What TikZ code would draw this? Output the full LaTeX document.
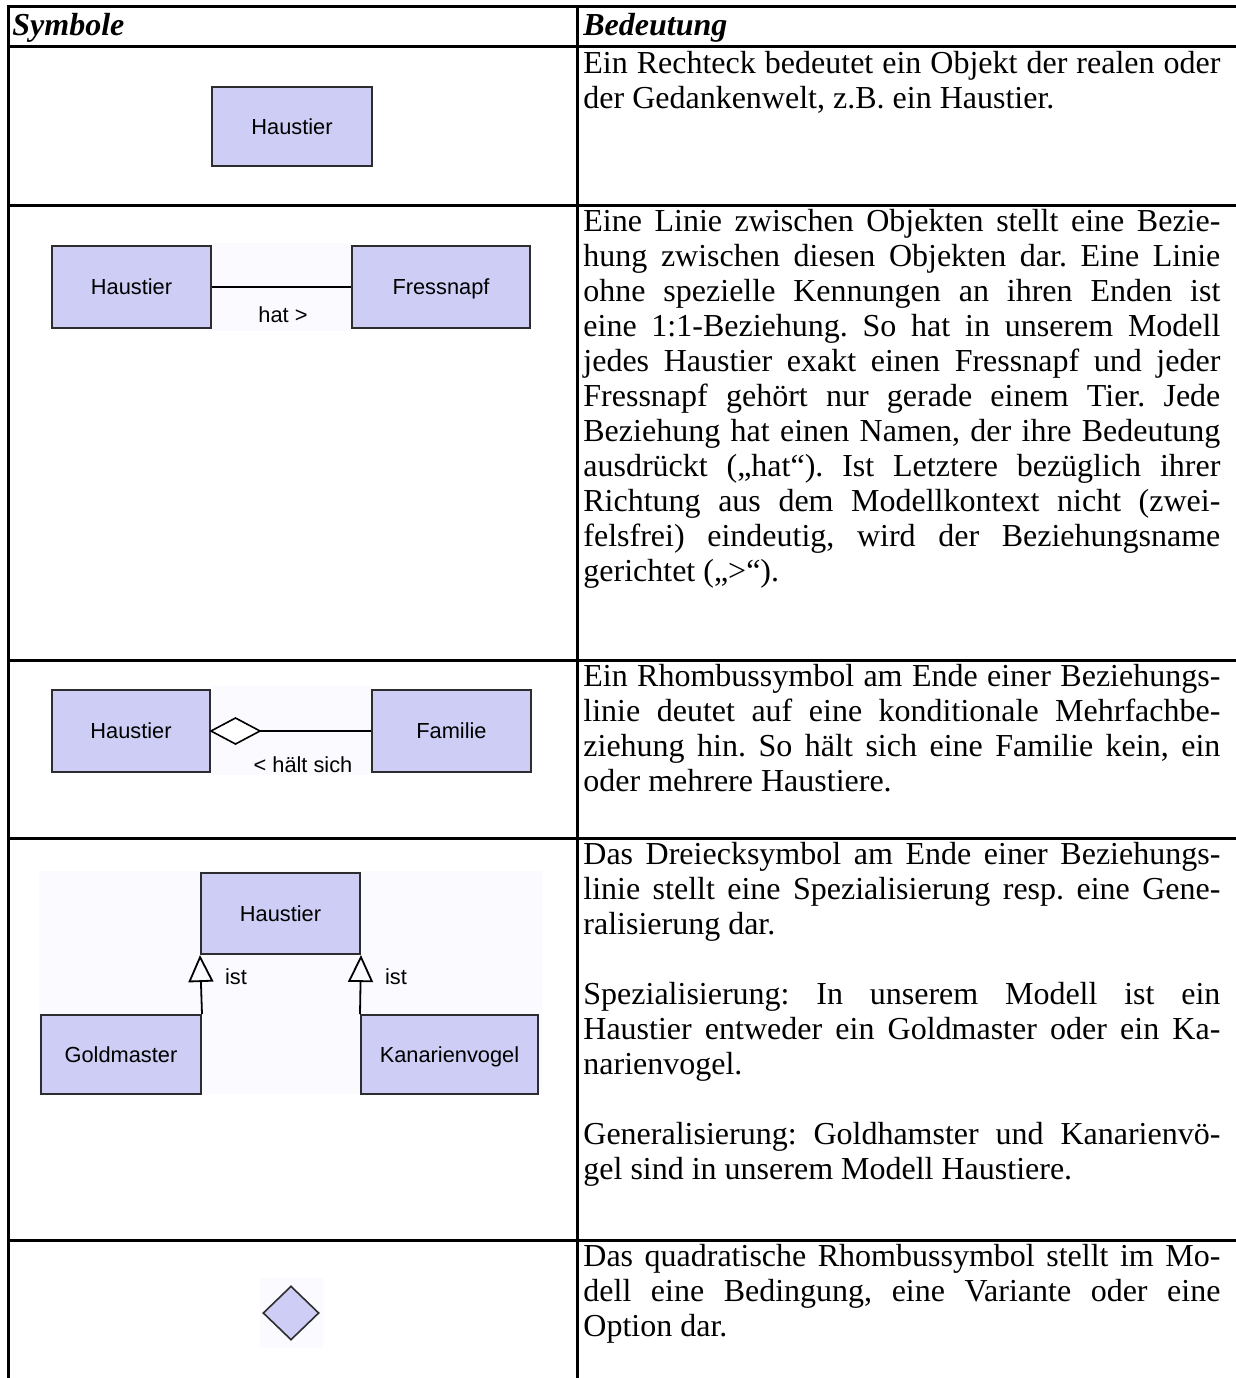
\documentclass[tikz,border=0pt]{standalone}
\usepackage{fontspec}
\setmainfont{Liberation Serif}
\newfontfamily\uisans{Liberation Sans}
\usetikzlibrary{shapes.geometric,arrows.meta}
\definecolor{boxfill}{RGB}{205,205,245}
\definecolor{boxline}{RGB}{45,45,45}
\definecolor{faint}{RGB}{251,250,255}
\newlength\tw \setlength\tw{318.5pt}
\newcommand\jl[1]{\makebox[\tw][s]{#1}}
\newcommand\lastl[1]{\makebox[\tw][l]{#1}}
\newcommand\txtfont{\fontsize{16}{17.5}\selectfont}
\frenchspacing
\begin{document}
\begin{tikzpicture}[x=0.5pt,y=-0.5pt,
  cls/.style={draw=boxline, fill=boxfill, line width=1pt, inner sep=0pt,
    text height=9.6pt, text depth=1.9pt,
    font=\uisans\fontsize{10.9}{13}\selectfont},
  lbl/.style={inner sep=0pt, text height=7.8pt, text depth=1.9pt,
    font=\uisans\fontsize{10.9}{13}\selectfont},
  conn/.style={draw=black, line width=0.9pt},
  rule/.style={line width=1.5pt, black},
  txt/.style={anchor=base west, inner sep=0pt},
  head/.style={anchor=base west, inner sep=0pt, font=\txtfont\bfseries\itshape},
  bg/.style={fill=faint, draw=none}]
\useasboundingbox (0,0) rectangle (1236,1378);
% table rules
\draw[rule] (8,6) -- (8,1378);
\draw[rule] (577,6) -- (577,1378);
\draw[rule] (7,6) -- (1236,6);
\draw[rule] (7,46.5) -- (1236,46.5);
\draw[rule] (7,205) -- (1236,205);
\draw[rule] (7,660) -- (1236,660);
\draw[rule] (7,838) -- (1236,838);
\draw[rule] (7,1240) -- (1236,1240);
% headers
\node[head] (hs) at (12,35) {Symbole};
\node[head] (hb) at (583,35) {Bedeutung};
% faint backgrounds
\fill[bg] (211,243) rectangle (352,331);
\fill[bg] (210,686) rectangle (372,775);
\fill[bg] (39,871) rectangle (542,1094);
\fill[bg] (260,1278) rectangle (323,1348);
% row 1
\node[cls, minimum width=80pt, minimum height=39.5pt] (h1) at (292,126.5) {Haustier};
% row 2
\node[cls, minimum width=79.5pt, minimum height=41pt] (h2) at (131.5,287) {Haustier};
\node[cls, minimum width=89pt, minimum height=41pt] (f2) at (441,287) {Fressnapf};
\draw[conn] (h2.east) -- (f2.west);
\node[lbl] (l2) at (283,317) {hat >};
% row 3
\node[cls, minimum width=79pt, minimum height=41pt] (h3) at (131,731) {Haustier};
\node[cls, minimum width=79.5pt, minimum height=41pt] (fa3) at (451.5,731) {Familie};
\coordinate (d3) at ([xshift=24.5pt]h3.east);
\draw[line width=0.8pt, fill=white] (h3.east) -- ([yshift=6.5pt,xshift=12.25pt]h3.east) -- (d3) -- ([yshift=-6.5pt,xshift=12.25pt]h3.east) -- cycle;
\draw[conn] (d3) -- (fa3.west);
\node[lbl] (l3) at (303,767) {< hält sich};
% row 4
\node[cls, minimum width=79.5pt, minimum height=40.5pt] (h4) at (280.5,913.5) {Haustier};
\node[cls, minimum width=80pt, minimum height=39.5pt] (g4) at (121,1054.5) {Goldmaster};
\node[cls, minimum width=88.5pt, minimum height=39.5pt] (k4) at (449.5,1054.5) {Kanarienvogel};
\draw[conn, -{Triangle[open, length=13.5pt, width=12.5pt]}] (g4.north east) -- (h4.south west);
\draw[conn, -{Triangle[open, length=13.5pt, width=12.5pt]}] (k4.north west) -- (h4.south east);
\node[lbl] (i1) at (236,979) {ist};
\node[lbl] (i2) at (396,979) {ist};
% row 5
\node[diamond, draw=boxline, fill=boxfill, line width=0.8pt, inner sep=0pt,
  minimum width=28pt, minimum height=27pt] (c5) at (291,1313) {};
% texts
\node[txt] (t1) at (583,73) {\parbox[t]{\tw}{\txtfont
\jl{Ein Rechteck bedeutet ein Objekt der realen oder}\\
\lastl{der Gedankenwelt, z.B. ein Haustier.}}};
\node[txt] (t2) at (583,231) {\parbox[t]{\tw}{\txtfont
\jl{Eine Linie zwischen Objekten stellt eine Bezie-}\\
\jl{hung zwischen diesen Objekten dar. Eine Linie}\\
\jl{ohne spezielle Kennungen an ihren Enden ist}\\
\jl{eine 1:1-Beziehung. So hat in unserem Modell}\\
\jl{jedes Haustier exakt einen Fressnapf und jeder}\\
\jl{Fressnapf gehört nur gerade einem Tier. Jede}\\
\jl{Beziehung hat einen Namen, der ihre Bedeutung}\\
\jl{ausdrückt („hat“). Ist Letztere bezüglich ihrer}\\
\jl{Richtung aus dem Modellkontext nicht (zwei-}\\
\jl{felsfrei) eindeutig, wird der Beziehungsname}\\
\lastl{gerichtet („>“).}}};
\node[txt] (t3) at (583,686) {\parbox[t]{\tw}{\txtfont
\jl{Ein Rhombussymbol am Ende einer Beziehungs-}\\
\jl{linie deutet auf eine konditionale Mehrfachbe-}\\
\jl{ziehung hin. So hält sich eine Familie kein, ein}\\
\lastl{oder mehrere Haustiere.}}};
\node[txt] (t4) at (583,864) {\parbox[t]{\tw}{\txtfont
\jl{Das Dreiecksymbol am Ende einer Beziehungs-}\\
\jl{linie stellt eine Spezialisierung resp. eine Gene-}\\
\lastl{ralisierung dar.}\\
\mbox{}\\
\jl{Spezialisierung: In unserem Modell ist ein}\\
\jl{Haustier entweder ein Goldmaster oder ein Ka-}\\
\lastl{narienvogel.}\\
\mbox{}\\
\jl{Generalisierung: Goldhamster und Kanarienvö-}\\
\lastl{gel sind in unserem Modell Haustiere.}}};
\node[txt] (t5) at (583,1266) {\parbox[t]{\tw}{\txtfont
\jl{Das quadratische Rhombussymbol stellt im Mo-}\\
\jl{dell eine Bedingung, eine Variante oder eine}\\
\lastl{Option dar.}}};
\end{tikzpicture}
\end{document}
